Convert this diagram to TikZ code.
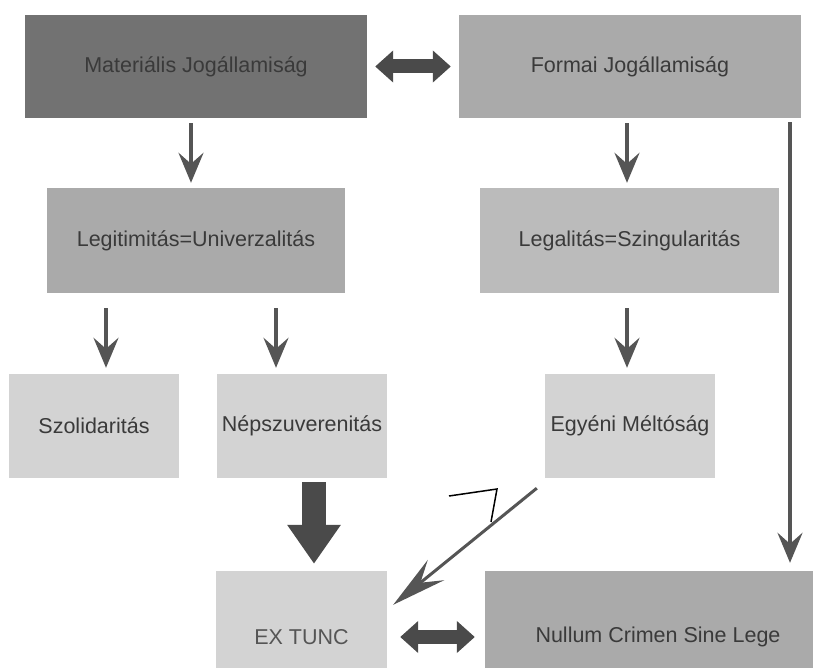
\documentclass[tikz,border=0pt]{standalone}
\usepackage{fontspec}
\setmainfont{Liberation Sans}
\usetikzlibrary{arrows.meta}
\definecolor{boxdark}{HTML}{727272}
\definecolor{boxmid}{HTML}{AAAAAA}
\definecolor{boxpale}{HTML}{BBBBBB}
\definecolor{boxlight}{HTML}{D3D3D3}
\definecolor{arrowgray}{HTML}{555555}
\definecolor{fatgray}{HTML}{4A4A4A}
\definecolor{txtgray}{HTML}{3A3A3A}
\begin{document}
\begin{tikzpicture}[x=1pt, y=-1pt,
    every node/.style={font=\fontsize{21.5}{25}\selectfont, text=txtgray, inner sep=0pt},
    thinarrow/.style={arrowgray, line width=3.5pt, -{Stealth[length=30pt,width=25pt,inset=11pt]}},
    diagarrow/.style={arrowgray, line width=3pt, -{Stealth[length=55pt,width=26pt,inset=20pt]}},
    fatarrow/.style={fatgray, line width=24pt, -{Triangle[length=39pt,width=51pt]}},
    bothways/.style={fatgray, line width=14pt, {Triangle[length=18pt,width=31pt]}-{Triangle[length=18pt,width=31pt]}}]
    \useasboundingbox (0,0) rectangle (813,668);
    \clip (0,0) rectangle (813,668);
    % boxes
    \node [fill=boxdark, minimum width=342pt, minimum height=103pt] (mat) at (196,66.5) {Materiális Jogállamiság};
    \node [fill=boxmid, minimum width=342pt, minimum height=103pt] (form) at (630,66.5) {Formai Jogállamiság};
    \node [fill=boxmid, minimum width=298pt, minimum height=105pt] (legit) at (196,240.5) {Legitimitás=Univerzalitás};
    \node [fill=boxpale, minimum width=299pt, minimum height=105pt] (legal) at (629.5,240.5) {Legalitás=Szingularitás};
    \node [fill=boxlight, minimum width=170pt, minimum height=104pt] (szol) at (94,426) {Szolidaritás};
    \node [fill=boxlight, minimum width=170pt, minimum height=104pt] (nep) at (302,426) {Népszuverenitás};
    \node [fill=boxlight, minimum width=170pt, minimum height=104pt] (egy) at (630,426) {Egyéni Méltóság};
    \node [fill=boxlight, minimum width=171pt, minimum height=132pt, text=arrowgray] (ex) at (301.5,637) {EX TUNC};
    \node [fill=boxmid, minimum width=346pt, minimum height=132pt] (nul) at (658,637) {Nullum Crimen Sine Lege};
    % arrows
    \draw [bothways, shorten <=8pt, shorten >=8pt] (mat) -- (form);
    \draw [thinarrow, shorten <=5pt, shorten >=5pt] ([xshift=-5pt]mat.south) -- ([xshift=-5pt]mat.south |- legit.north);
    \draw [thinarrow, shorten <=5pt, shorten >=5pt] ([xshift=-3pt]form.south) -- ([xshift=-3pt]form.south |- legal.north);
    \draw [thinarrow, shorten <=4pt, shorten >=8pt] ([xshift=160pt]form.south) -- ([xshift=160pt]form.south |- nul.north);
    \draw [thinarrow, shorten <=15pt, shorten >=6pt] ([xshift=-90pt]legit.south) -- ([xshift=-90pt]legit.south |- szol.north);
    \draw [thinarrow, shorten <=15pt, shorten >=6pt] ([xshift=80pt]legit.south) -- ([xshift=80pt]legit.south |- nep.north);
    \draw [thinarrow, shorten <=15pt, shorten >=6pt] ([xshift=-2.5pt]legal.south) -- ([xshift=-2.5pt]legal.south |- egy.north);
    \draw [fatarrow, shorten <=4pt, shorten >=7pt] ([xshift=12pt]nep.south) -- ([xshift=12pt]nep.south |- ex.north);
    \draw [diagarrow] ([shift={(-8,10)}]egy.south west) -- ([shift={(6,34)}]ex.north east);
    \draw [bothways, shorten <=13pt, shorten >=10pt] (ex) -- (nul);
    % stray pen stroke
    \draw [black, line width=1.5pt] (449,496) -- (497,489) -- (491,522);
\end{tikzpicture}
\end{document}
